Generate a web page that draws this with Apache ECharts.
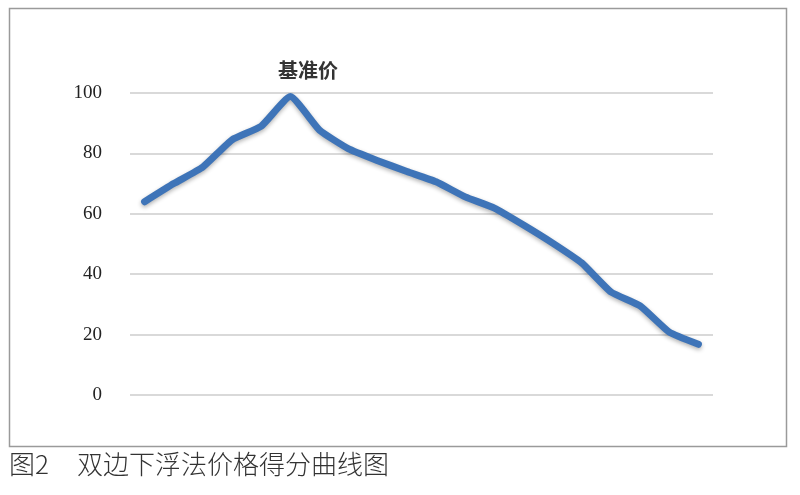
<!DOCTYPE html>
<html>
<head>
<meta charset="utf-8">
<title>双边下浮法价格得分曲线图</title>
<script src="https://cdn.jsdelivr.net/npm/echarts@6/dist/echarts.min.js"></script>
<style>
  html, body { margin: 0; padding: 0; background: #fff; }
  #main { width: 800px; height: 495px; }
</style>
</head>
<body>
<div id="main"></div>
<script>
// 报价序号（横轴无标签）
var categories = ['1','2','3','4','5','6','7','8','9','10','11','12','13','14','15','16','17','18','19','20'];
// 价格得分
var scores = [64, 70, 75.5, 84.5, 89, 98.8, 87.7, 81.5, 77.6, 74, 70.6, 65.6, 61.9, 56.3, 50.3, 43.7, 34.1, 29.5, 20.8, 16.8];
var yTicks = [0, 20, 40, 60, 80, 100];
var peakLabel = '基准价';
var captionNo = '图2';
var captionText = '双边下浮法价格得分曲线图';

var chart = echarts.init(document.getElementById('main'));
var option = {
    animation: false,
    backgroundColor: '#fff',
    title: {
        text: peakLabel,
        left: 303,
        top: 55,
        textAlign: 'center',
        textStyle: { fontSize: 20, fontWeight: 'bold', color: '#333', fontFamily: 'Noto Sans CJK SC' }
    },
    grid: { left: 130, right: 87, top: 93, bottom: 100 },
    xAxis: {
        type: 'category',
        data: categories,
        boundaryGap: true,
        axisLine: { show: false },
        axisTick: { show: false },
        axisLabel: { show: false }
    },
    yAxis: {
        type: 'value',
        min: yTicks[0],
        max: yTicks[yTicks.length - 1],
        interval: 20,
        axisLine: { show: false },
        axisTick: { show: false },
        axisLabel: { margin: 28, fontSize: 19, color: '#222', fontFamily: 'Liberation Serif' },
        splitLine: { lineStyle: { color: '#d9d9d9', width: 2 } }
    },
    series: [{
        type: 'line',
        data: scores,
        smooth: 0.15,
        symbol: 'none',
        lineStyle: {
            color: '#3e74b8', width: 7, cap: 'round', join: 'round',
            shadowColor: 'rgba(0,0,0,0.3)', shadowBlur: 4, shadowOffsetY: 2
        }
    }],
    graphic: [
        {
            type: 'rect',
            shape: { x: 9.5, y: 8.5, width: 777, height: 438 },
            style: { fill: 'none', stroke: '#9a9a9a', lineWidth: 1.5 },
            z: -1
        },
        {
            type: 'text', left: 9, top: 451,
            style: { text: captionNo, fontSize: 26, fill: '#333', fontFamily: 'Noto Sans CJK SC', fontWeight: 300 }
        },
        {
            type: 'text', left: 77, top: 451,
            style: { text: captionText, fontSize: 26, fill: '#333', fontFamily: 'Noto Sans CJK SC', fontWeight: 300 }
        }
    ]
};
chart.setOption(option);
</script>
</body>
</html>
